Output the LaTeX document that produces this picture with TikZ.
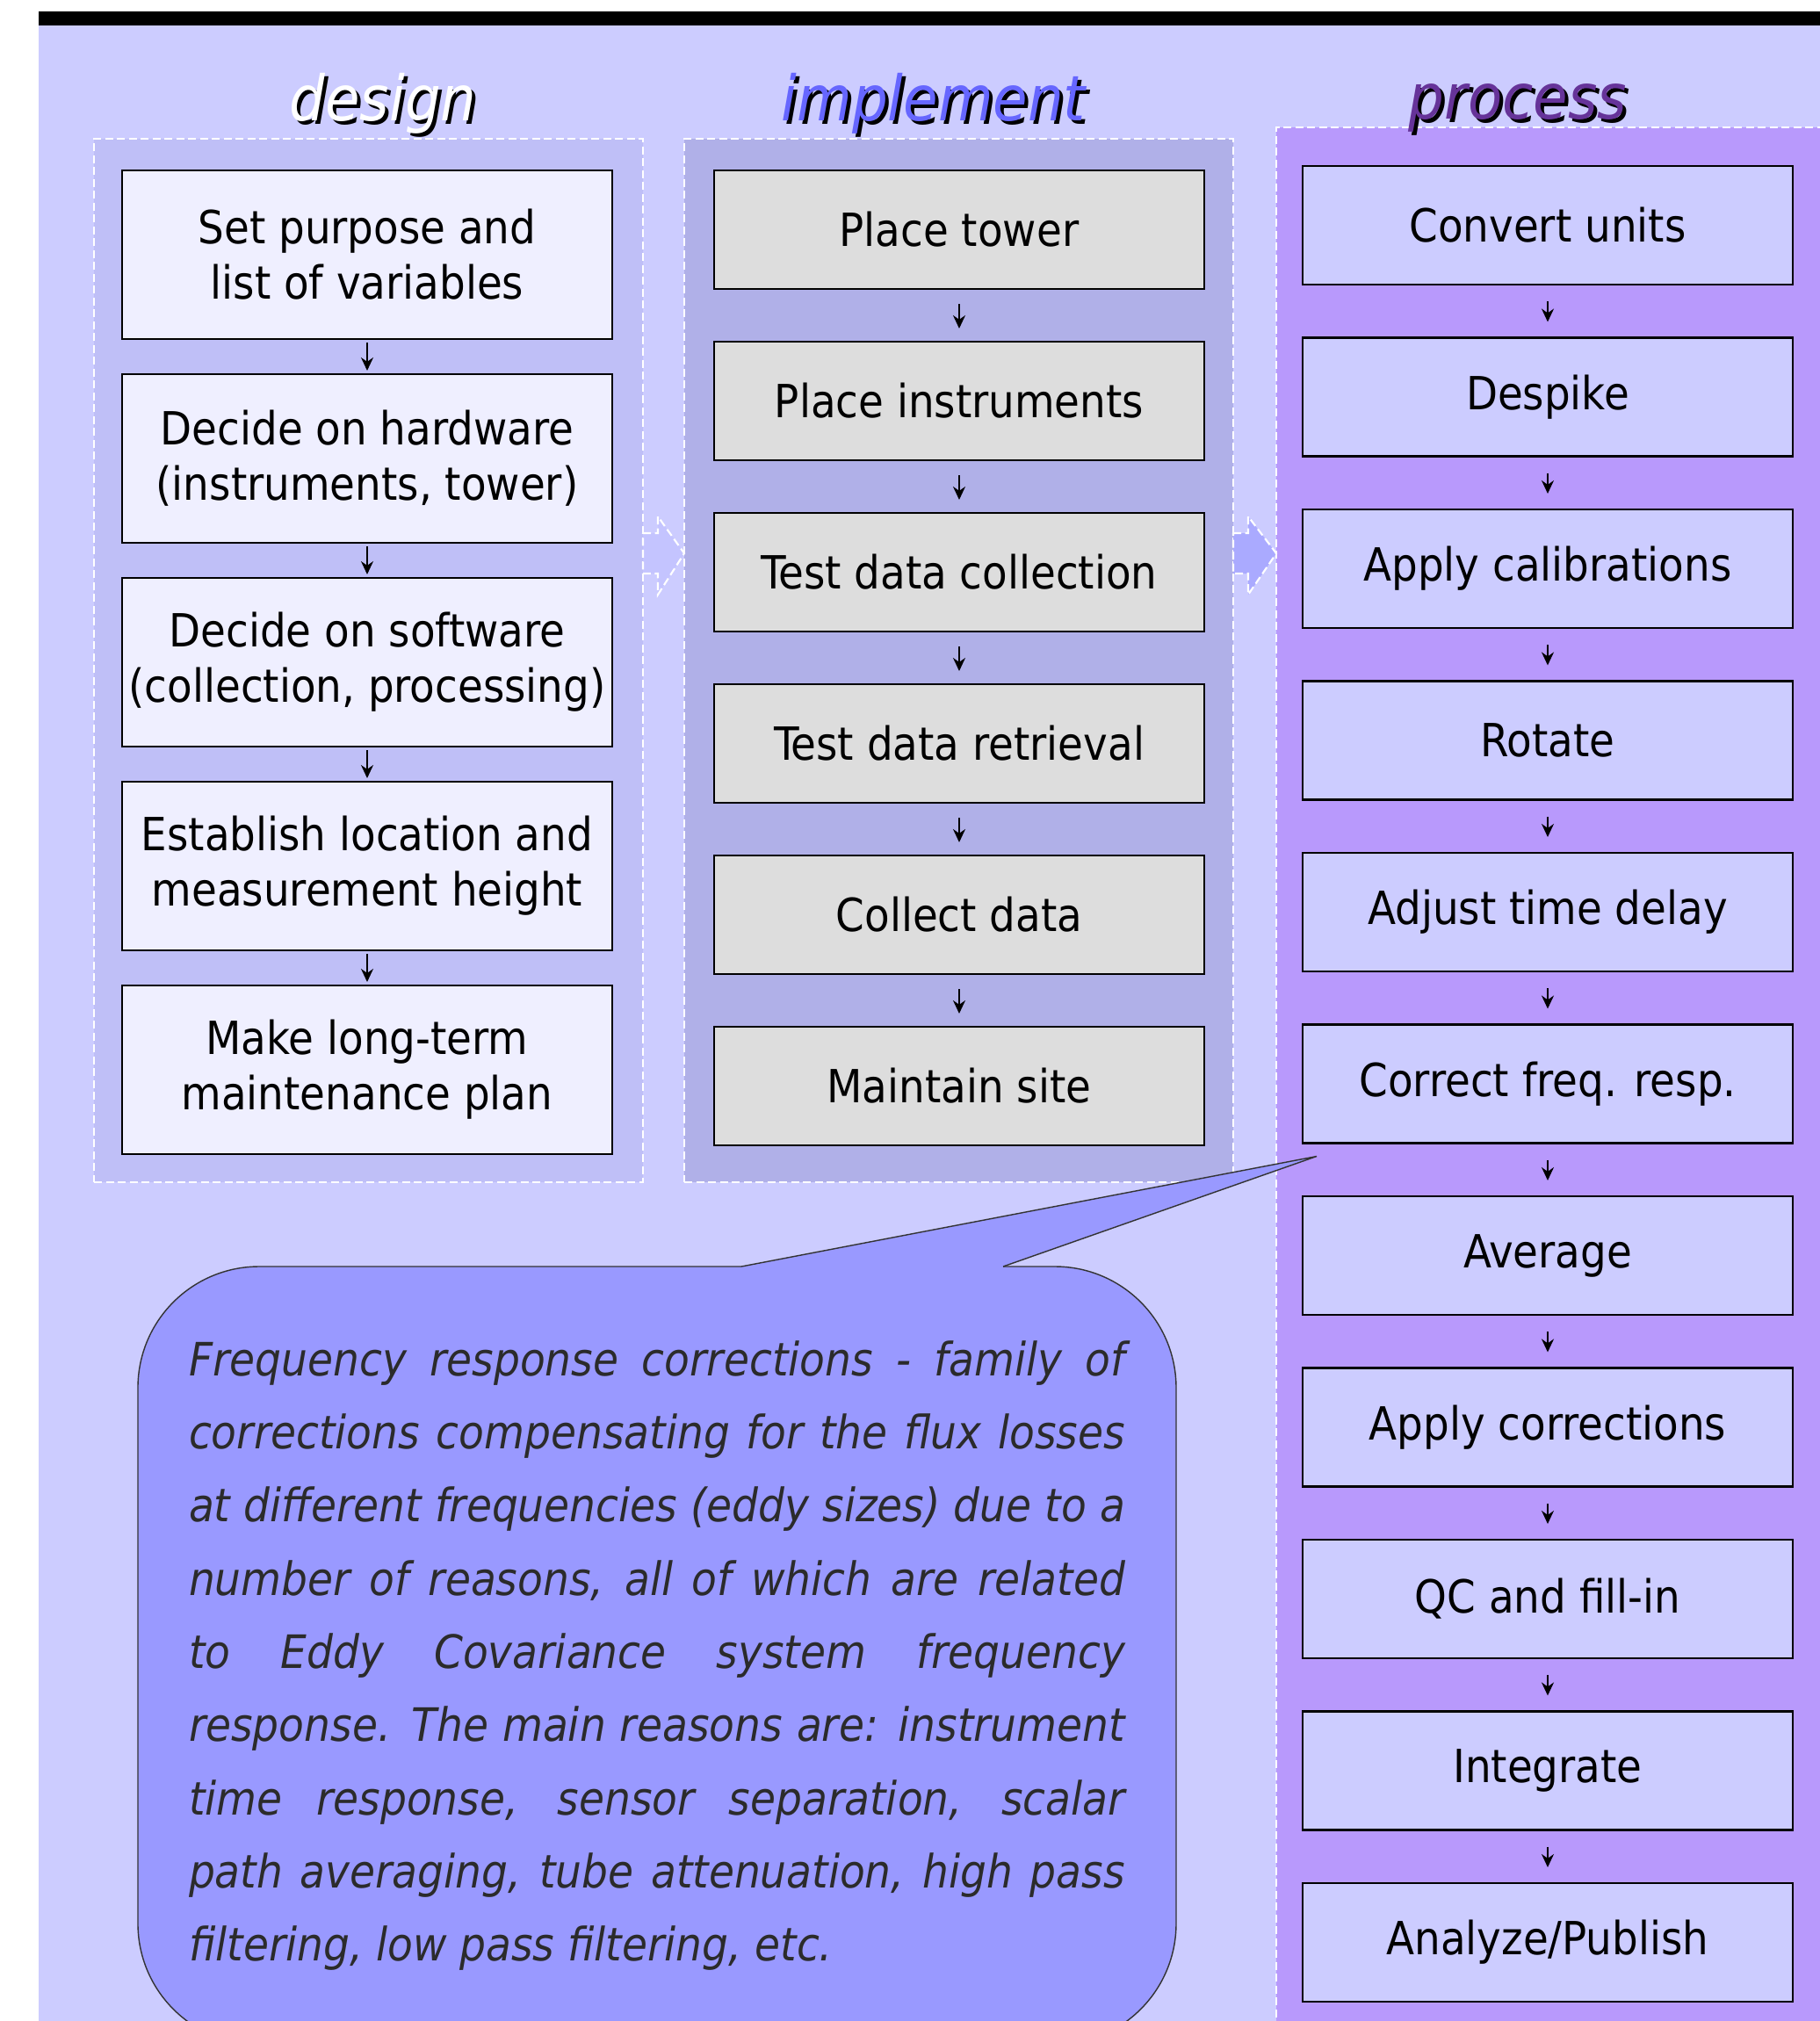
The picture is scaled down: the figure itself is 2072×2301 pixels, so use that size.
\documentclass[tikz,border=0pt]{standalone}
\usepackage{fontspec}
\setmainfont{DejaVu Sans Condensed}
\usetikzlibrary{positioning,arrows.meta}

\definecolor{pagebg}{HTML}{CCCCFF}
\definecolor{dsnpanel}{HTML}{BFBFF7}
\definecolor{implpanel}{HTML}{B0B0E8}
\definecolor{procpanel}{HTML}{B899FC}
\definecolor{dsnfill}{HTML}{EFEFFF}
\definecolor{implfill}{HTML}{DDDDDD}
\definecolor{procfill}{HTML}{CCCCFF}
\definecolor{notefill}{HTML}{9999FF}
\definecolor{noteline}{HTML}{333333}
\definecolor{notetext}{HTML}{2B2B2B}
\definecolor{implhead}{HTML}{6666FF}
\definecolor{prochead}{HTML}{663399}
\definecolor{arrowone}{HTML}{C4C4FF}
\definecolor{arrowtwo}{HTML}{AAAAFF}

\newcommand\cellfont{\fontsize{14.8pt}{17.9pt}\selectfont}
\newcommand\colheadfont{\fontsize{20.3pt}{24pt}\selectfont\itshape}
\newcommand\notefont{\fontsize{14.9pt}{23.7pt}\selectfont\itshape\hyphenpenalty=10000\exhyphenpenalty=10000}

\begin{document}
\begin{tikzpicture}[x=0.1mm,y=-0.1mm,inner sep=0pt,outer sep=0pt,
panel/.style={draw=white,line width=0.6pt,dash pattern=on 0.9mm off 0.45mm,anchor=north west},
bigarrow/.style={draw=white,line width=0.6pt,dash pattern=on 0.9mm off 0.45mm},
stepbox/.style={draw,rectangle,line width=0.6pt,minimum width=55.8mm,align=center,font=\cellfont},
dsnbox/.style={stepbox,fill=dsnfill,minimum height=19.2mm},
implbox/.style={stepbox,fill=implfill,minimum height=13.5mm},
procbox/.style={stepbox,fill=procfill,minimum height=13.5mm},
flow/.style={-{Stealth[length=1.5mm,width=1.4mm]},line width=0.5pt},
heading/.style={anchor=base,font=\colheadfont},
note/.style={draw=noteline,line width=0.4pt,fill=notefill,rounded corners=13.8mm,minimum width=118.2mm,minimum height=88.6mm,text width=106.6mm,align=justify,font=\notefont,text=notetext}]
\useasboundingbox (0,0) rectangle (2072,2301);
\clip (0,0) rectangle (2072,2301);
\fill[white] (0,0) rectangle (2072,2301);
\fill[pagebg] (44,29) rectangle (2072,2301);
\fill[black] (44,13) rectangle (2072,29);

% column panels
\node[panel,fill=dsnpanel,minimum width=62.5mm,minimum height=118.8mm] (dsn) at (107,158) {};
\node[panel,fill=implpanel,minimum width=62.5mm,minimum height=118.8mm] (impl) at (779,158) {};
\node[panel,fill=procpanel,minimum width=65mm,minimum height=220mm] (proc) at (1453,145) {};

% arrows between the panels
\draw[bigarrow,fill=arrowone] (dsn.east |- 0,607) -- ++(17,0) -- ++(0,-19) -- (impl.west |- 0,630) -- ++(-30,47) -- ++(0,-24) -- (dsn.east |- 0,653) -- cycle;
\draw[bigarrow,fill=arrowtwo] (impl.east |- 0,607) -- ++(17,0) -- ++(0,-19) -- (proc.west |- 0,630) -- ++(-32,47) -- ++(0,-24) -- (impl.east |- 0,653) -- cycle;

% headings
\node[heading,black] (dsnshade) at (440,141) {design};
\node[heading,white] (dsntitle) at (436,137) {design};
\node[heading,black] (implshade) at (1067,141) {implement};
\node[heading,implhead] (impltitle) at (1063,137) {implement};
\node[heading,black] (procshade) at (1732,139) {process};
\node[heading,prochead] (proctitle) at (1728,135) {process};

% design
\node[dsnbox] (d1) at (418,290) {Set purpose and\\list of variables};
\node[dsnbox,below=4mm of d1] (d2) {Decide on hardware\\(instruments, tower)};
\node[dsnbox,below=4mm of d2] (d3) {Decide on software\\(collection, processing)};
\node[dsnbox,below=4mm of d3] (d4) {Establish location and\\measurement height};
\node[dsnbox,below=4mm of d4] (d5) {Make long-term\\maintenance plan};

% implement
\node[implbox] (i1) at (1092,261.5) {Place tower};
\node[implbox,below=6mm of i1] (i2) {Place instruments};
\node[implbox,below=6mm of i2] (i3) {Test data collection};
\node[implbox,below=6mm of i3] (i4) {Test data retrieval};
\node[implbox,below=6mm of i4] (i5) {Collect data};
\node[implbox,below=6mm of i5] (i6) {Maintain site};

% process
\node[procbox] (p1) at (1762,256.5) {Convert units};
\node[procbox,below=6.05mm of p1] (p2) {Despike};
\node[procbox,below=6.05mm of p2] (p3) {Apply calibrations};
\node[procbox,below=6.05mm of p3] (p4) {Rotate};
\node[procbox,below=6.05mm of p4] (p5) {Adjust time delay};
\node[procbox,below=6.05mm of p5] (p6) {Correct freq. resp.};
\node[procbox,below=6.05mm of p6] (p7) {Average};
\node[procbox,below=6.05mm of p7] (p8) {Apply corrections};
\node[procbox,below=6.05mm of p8] (p9) {QC and fill-in};
\node[procbox,below=6.05mm of p9] (p10) {Integrate};
\node[procbox,below=6.05mm of p10] (p11) {Analyze/Publish};

\draw[flow,shorten <=0.4mm,shorten >=0.4mm] (d1) -- (d2);
\draw[flow,shorten <=0.4mm,shorten >=0.4mm] (d2) -- (d3);
\draw[flow,shorten <=0.4mm,shorten >=0.4mm] (d3) -- (d4);
\draw[flow,shorten <=0.4mm,shorten >=0.4mm] (d4) -- (d5);
\draw[flow,shorten <=1.7mm,shorten >=1.5mm] (i1) -- (i2);
\draw[flow,shorten <=1.7mm,shorten >=1.5mm] (i2) -- (i3);
\draw[flow,shorten <=1.7mm,shorten >=1.5mm] (i3) -- (i4);
\draw[flow,shorten <=1.7mm,shorten >=1.5mm] (i4) -- (i5);
\draw[flow,shorten <=1.7mm,shorten >=1.5mm] (i5) -- (i6);
\draw[flow,shorten <=1.9mm,shorten >=1.8mm] (p1) -- (p2);
\draw[flow,shorten <=1.9mm,shorten >=1.8mm] (p2) -- (p3);
\draw[flow,shorten <=1.9mm,shorten >=1.8mm] (p3) -- (p4);
\draw[flow,shorten <=1.9mm,shorten >=1.8mm] (p4) -- (p5);
\draw[flow,shorten <=1.9mm,shorten >=1.8mm] (p5) -- (p6);
\draw[flow,shorten <=1.9mm,shorten >=1.8mm] (p6) -- (p7);
\draw[flow,shorten <=1.9mm,shorten >=1.8mm] (p7) -- (p8);
\draw[flow,shorten <=1.9mm,shorten >=1.8mm] (p8) -- (p9);
\draw[flow,shorten <=1.9mm,shorten >=1.8mm] (p9) -- (p10);
\draw[flow,shorten <=1.9mm,shorten >=1.8mm] (p10) -- (p11);

% callout
\node[note,anchor=north west] (note) at (157,1442) {Frequency response corrections - family of\linebreak corrections compensating for the flux losses\linebreak at different frequencies (eddy sizes) due to a\linebreak number of reasons, all of which are related\linebreak to Eddy Covariance system frequency\linebreak response. The main reasons are: instrument\linebreak time response, sensor separation, scalar\linebreak path averaging, tube attenuation, high pass\linebreak filtering, low pass filtering, etc.};
\coordinate (tip) at ([xshift=1.6mm,yshift=-1.5mm]p6.south west);
\fill[notefill] ([xshift=68.7mm,yshift=-0.4mm]note.north west) -- ([xshift=68.7mm]note.north west) -- (tip) -- ([xshift=98.5mm]note.north west) -- ([xshift=98.5mm,yshift=-0.4mm]note.north west) -- cycle;
\draw[noteline,line width=0.4pt] ([xshift=68.7mm]note.north west) -- (tip) -- ([xshift=98.5mm]note.north west);
\end{tikzpicture}
\end{document}
